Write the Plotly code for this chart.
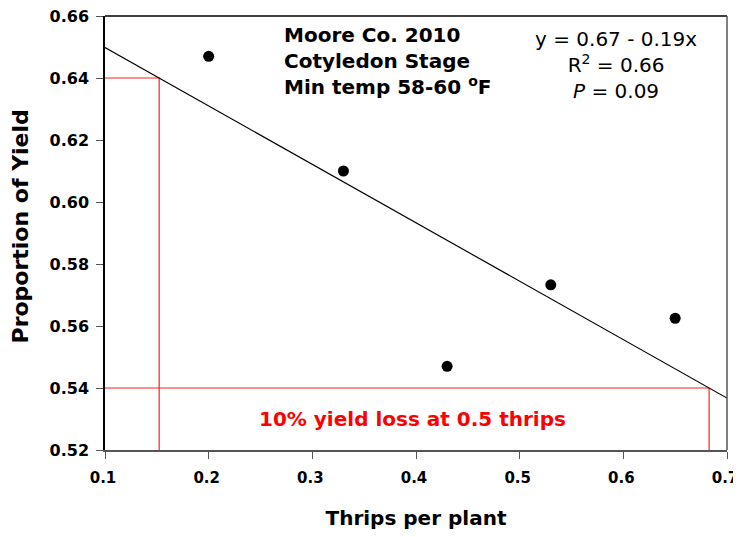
import plotly.graph_objects as go

# Data
thrips = [0.20, 0.33, 0.43, 0.53, 0.65]
yield_prop = [0.647, 0.610, 0.547, 0.5733, 0.5625]
fit_intercept = 0.6687
fit_slope = -0.1885
ref_levels = [0.64, 0.54]
x_range = [0.1, 0.7]
y_range = [0.52, 0.66]
x_ticks = [0.1, 0.2, 0.3, 0.4, 0.5, 0.6, 0.7]
y_ticks = [0.52, 0.54, 0.56, 0.58, 0.60, 0.62, 0.64, 0.66]

FONT = "DejaVu Sans"

fig = go.Figure()

# Red reference lines
for lvl in ref_levels:
    xi = (fit_intercept - lvl) / (-fit_slope)
    fig.add_trace(go.Scatter(x=[x_range[0], xi, xi], y=[lvl, lvl, y_range[0]],
                             mode="lines", line=dict(color="#ff2020", width=1.2),
                             hoverinfo="skip", showlegend=False))

# Regression line
fig.add_trace(go.Scatter(x=x_range, y=[fit_intercept + fit_slope * v for v in x_range],
                         mode="lines", line=dict(color="black", width=1.2),
                         showlegend=False))

# Data points
fig.add_trace(go.Scatter(x=thrips, y=yield_prop, mode="markers",
                         marker=dict(color="black", size=11), showlegend=False))

fig.update_layout(
    width=733, height=529,
    margin=dict(l=97, r=14, t=8, b=87),
    paper_bgcolor="white", plot_bgcolor="white",
    font=dict(family=FONT, color="black"),
    showlegend=False,
)
fig.update_xaxes(range=x_range, tickvals=x_ticks, ticktext=[f"{v:.1f}" for v in x_ticks],
                 automargin=False, ticklabeloverflow="allow",
                 showgrid=False, zeroline=False, showline=True, linecolor="#555555", linewidth=1.5,
                 ticks="outside", ticklen=7, tickcolor="#555555", tickwidth=1.2,
                 tickfont=dict(family=FONT, size=15, color="black", weight="bold"),
                 ticklabelstandoff=6, ticklabelshift=-2,
                 title=dict(text="<b>Thrips per plant</b>", font=dict(family=FONT, size=20), standoff=25))
fig.update_yaxes(range=y_range, tickvals=y_ticks, ticktext=[f"{v:.2f}" for v in y_ticks],
                 automargin=False, ticklabeloverflow="allow",
                 showgrid=False, zeroline=False, showline=True, linecolor="black", linewidth=1.5,
                 ticks="outside", ticklen=7, tickcolor="#555555", tickwidth=1.2,
                 tickfont=dict(family=FONT, size=16, color="black", weight="bold"),
                 ticklabelstandoff=4)

# Y axis title as rotated text (slightly above plot centre, as in the reference)
fig.add_annotation(x=0, y=0.5921, xref="paper", yref="y", xshift=-85, textangle=-90,
                   xanchor="center", yanchor="middle", showarrow=False,
                   text="<b>Proportion of Yield</b>", font=dict(family=FONT, size=22, color="black"))

# Frame top/right
fig.add_shape(type="line", xref="paper", yref="paper", x0=0, x1=1, y0=1, y1=1,
              line=dict(color="black", width=1.5))
fig.add_shape(type="line", xref="paper", yref="paper", x0=1, x1=1, y0=0, y1=1,
              line=dict(color="#555555", width=1.5))

# Text annotations
fig.add_annotation(x=0.2706, y=0.6585, xref="x", yref="y", xanchor="left", yanchor="top",
                   align="left", showarrow=False,
                   text="<b>Moore Co. 2010<br>Cotyledon Stage<br>Min temp 58-60 <sup>o</sup>F</b>",
                   font=dict(family=FONT, size=20, color="black"))
fig.add_annotation(x=0.593, y=0.6572, xref="x", yref="y", xanchor="center", yanchor="top",
                   align="center", showarrow=False,
                   text="y = 0.67 - 0.19x<br>R<sup>2</sup> = 0.66<br><i>P</i> = 0.09",
                   font=dict(family=FONT, size=20, color="black"))
fig.add_annotation(x=0.397, y=0.530, xref="x", yref="y", xanchor="center", yanchor="middle",
                   showarrow=False, text="<b>10% yield loss at 0.5 thrips</b>",
                   font=dict(family=FONT, size=20, color="#ff0000"))

fig.write_html("out.html")
